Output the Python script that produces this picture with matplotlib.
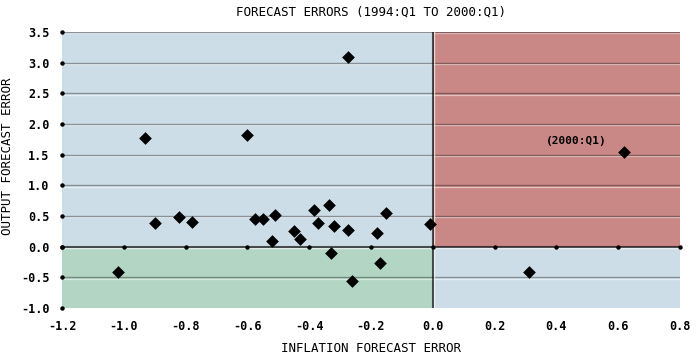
import matplotlib
matplotlib.use("Agg")
import matplotlib.pyplot as plt
import numpy as np

# inflation forecast error (x) vs output forecast error (y), 1994:Q1 - 2000:Q1
infl_err = [-1.02, -0.93, -0.90, -0.82, -0.78, -0.60, -0.575, -0.55, -0.51, -0.52,
            -0.45, -0.43, -0.385, -0.37, -0.335, -0.32, -0.33, -0.275, -0.275, -0.26,
            -0.18, -0.17, -0.15, -0.01, 0.31, 0.62]
output_err = [-0.42, 1.77, 0.38, 0.49, 0.40, 1.82, 0.45, 0.45, 0.51, 0.10,
              0.26, 0.12, 0.59, 0.39, 0.68, 0.33, -0.10, 3.09, 0.27, -0.56,
              0.22, -0.26, 0.55, 0.37, -0.41, 1.55]
x_ticks = [-1.2, -1.0, -0.8, -0.6, -0.4, -0.2, 0.0, 0.2, 0.4, 0.6, 0.8]
y_ticks = [-1.0, -0.5, 0.0, 0.5, 1.0, 1.5, 2.0, 2.5, 3.0, 3.5]
note_label = "(2000:Q1)"

FONT = "DejaVu Sans Mono"
BLUE = "#cddde7"
RED = "#c98885"
GREEN = "#b3d5c4"

fig = plt.figure(figsize=(7.0, 3.64), dpi=100)
ax = fig.add_axes([62 / 700, 1 - 308 / 364, 618 / 700, 276 / 364])
xmin, xmax = x_ticks[0], x_ticks[-1]
ymin, ymax = y_ticks[0], y_ticks[-1]
ax.set_xlim(xmin, xmax)
ax.set_ylim(ymin, ymax)

# one pixel in data units, for the embossed highlight under each line
px_y = (ymax - ymin) / 276
px_x = (xmax - xmin) / 618

# quadrant shading
ax.fill_between([xmin, 0], 0, ymax, color=BLUE, lw=0, zorder=0.5)
ax.fill_between([0, xmax], 0, ymax, color=RED, lw=0, zorder=0.5)
ax.fill_between([0, xmax], ymin, 0, color=BLUE, lw=0, zorder=0.5)
ax.fill_between([xmin, 0], ymin, 0, color=GREEN, lw=0, zorder=0.5)

# horizontal grid, dark line with a light line just below it
for yv in y_ticks:
    if yv == 0:
        ax.axhline(yv - 1.5 * px_y, color="white", lw=1.0, alpha=0.7, zorder=1)
        ax.axhline(yv, color="black", lw=1.5, alpha=0.65, zorder=1.1)
    elif yv == ymin:
        ax.axhline(yv, color="black", lw=0.8, alpha=0.12, zorder=1)
    else:
        ax.axhline(yv - 1.2 * px_y, color="white", lw=0.9, alpha=0.5, zorder=1)
        ax.axhline(yv, color="black", lw=1.0, alpha=0.35, zorder=1.1)
ax.axvline(1.5 * px_x, color="white", lw=1.0, alpha=0.7, zorder=1.2)
ax.axvline(0, color="black", lw=1.5, alpha=0.65, zorder=1.3)

# tick dots
ax.plot(x_ticks, [0] * len(x_ticks), "o", color="black", ms=2.2, zorder=2, clip_on=False)
ax.plot([xmin] * len(y_ticks), y_ticks, "o", color="black", ms=2.2, zorder=2, clip_on=False)

ax.scatter(infl_err, output_err, marker="D", s=42, color="black", lw=0, zorder=3)
ax.text(0.463, 1.73, note_label, ha="center", va="center", fontsize=8,
        family=FONT, fontweight="bold")

ax.set_xticks(x_ticks)
ax.set_yticks(y_ticks)
ax.set_xticklabels([f"{v:.1f}" for v in x_ticks], family=FONT, fontsize=8.5, fontweight="bold")
ax.set_yticklabels([f"{v:.1f}" for v in y_ticks], family=FONT, fontsize=8.5, fontweight="bold")
ax.tick_params(length=0, pad=9)
ax.tick_params(axis="y", pad=9)
for s in ax.spines.values():
    s.set_visible(False)

fig.text(371 / 700, 1 - 12 / 364, "FORECAST ERRORS (1994:Q1 TO 2000:Q1)",
         ha="center", va="center", family=FONT, fontsize=9)
fig.text(371 / 700, 1 - 349 / 364, "INFLATION FORECAST ERROR",
         ha="center", va="center", family=FONT, fontsize=9)
fig.text(8 / 700, 1 - 156 / 364, "OUTPUT FORECAST ERROR", rotation=90,
         ha="center", va="center", family=FONT, fontsize=9)

fig.savefig("out.png", dpi=100)
